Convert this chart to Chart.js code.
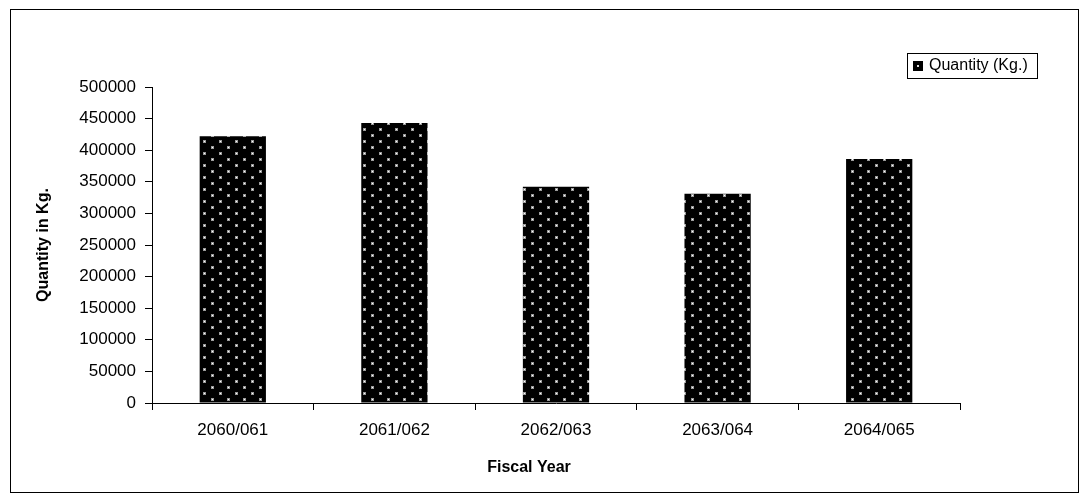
<!DOCTYPE html>
<html>
<head>
<meta charset="utf-8">
<script src="https://cdn.jsdelivr.net/npm/chart.js@4.4.1/dist/chart.umd.min.js"></script>
<style>
  html, body { margin: 0; padding: 0; background: #fff; }
  #wrap { position: relative; width: 1088px; height: 500px; }
  #frame { position: absolute; left: 10px; top: 9px; width: 1067px; height: 482px; border: 1px solid #000; pointer-events: none; }
  canvas { position: absolute; left: 0; top: 0; }
</style>
</head>
<body>
<div id="wrap">
  <canvas id="chart" width="1088" height="500"></canvas>
  <div id="frame"></div>
</div>
<script>
// Fiscal years and quantity exported (kg)
const categories = ['2060/061', '2061/062', '2062/063', '2063/064', '2064/065'];
const quantityKg = [422000, 443000, 342000, 331000, 386000];
const seriesName = 'Quantity (Kg.)';
const xTitle = 'Fiscal Year';
const yTitle = 'Quantity in Kg.';

const FONT = '"Liberation Sans", Arial, sans-serif';

// Black fill with a staggered grid of light dots
function dotPattern() {
  const c = document.createElement('canvas');
  c.width = 16; c.height = 12;
  const g = c.getContext('2d');
  g.fillStyle = '#000';
  g.fillRect(0, 0, 16, 12);
  g.fillStyle = '#9a9a9a';
  g.fillRect(3, 2, 3, 3);
  g.fillRect(11, 8, 3, 3);
  g.fillStyle = '#ffffff';
  g.fillRect(4, 3, 1, 1);
  g.fillRect(12, 9, 1, 1);
  return document.getElementById('chart').getContext('2d').createPattern(c, 'repeat');
}
const fill = dotPattern();

// Axis titles and the boxed legend
const decorations = {
  id: 'decorations',
  afterDraw(chart) {
    const { ctx, chartArea } = chart;
    ctx.save();
    ctx.fillStyle = '#000';
    ctx.font = 'bold 16px ' + FONT;
    ctx.textAlign = 'center';
    ctx.textBaseline = 'middle';
    ctx.fillText(xTitle, chartArea.left + 377, chartArea.bottom + 65);

    ctx.save();
    ctx.translate(44, (chartArea.top + chartArea.bottom) / 2);
    ctx.rotate(-Math.PI / 2);
    ctx.fillText(yTitle, 0, 0);
    ctx.restore();

    // legend
    const lx = chartArea.right - 53, ly = 53, lw = 130, lh = 25;
    ctx.lineWidth = 1;
    ctx.strokeStyle = '#000';
    ctx.fillStyle = '#fff';
    ctx.fillRect(lx + 0.5, ly + 0.5, lw, lh);
    ctx.strokeRect(lx + 0.5, ly + 0.5, lw, lh);
    ctx.fillStyle = '#000';
    ctx.fillRect(lx + 6, ly + 8, 10, 10);
    ctx.fillStyle = '#ddd';
    ctx.fillRect(lx + 10, ly + 12, 2, 2);
    ctx.fillStyle = '#000';
    ctx.font = '16px ' + FONT;
    ctx.textAlign = 'left';
    ctx.fillText(seriesName, lx + 22, ly + 13);
    ctx.restore();
  }
};

new Chart(document.getElementById('chart'), {
  type: 'bar',
  data: {
    labels: categories,
    datasets: [{
      label: seriesName,
      data: quantityKg,
      backgroundColor: fill,
      borderColor: '#000',
      borderWidth: 0,
      barPercentage: 0.41,
      categoryPercentage: 1.0
    }]
  },
  options: {
    responsive: false,
    animation: false,
    layout: { padding: { top: 87, right: 128, left: 0, bottom: 0 } },
    plugins: {
      legend: { display: false },
      tooltip: { enabled: false }
    },
    scales: {
      x: {
        afterFit(scale) { scale.height = 97; },
        border: { color: '#000', width: 1 },
        grid: { display: true, drawOnChartArea: false, drawTicks: true, tickLength: 7, color: '#000', offset: true },
        ticks: { color: '#000', font: { family: FONT, size: 17 }, padding: 10, maxRotation: 0 }
      },
      y: {
        min: 0,
        max: 500000,
        afterFit(scale) { scale.width = 152; },
        border: { color: '#000', width: 1 },
        grid: { display: true, drawOnChartArea: false, drawTicks: true, tickLength: 7, color: '#000' },
        ticks: {
          stepSize: 50000,
          color: '#000',
          font: { family: FONT, size: 17 },
          padding: 9,
          callback: (v) => String(v)
        }
      }
    }
  },
  plugins: [decorations]
});
</script>
</body>
</html>
